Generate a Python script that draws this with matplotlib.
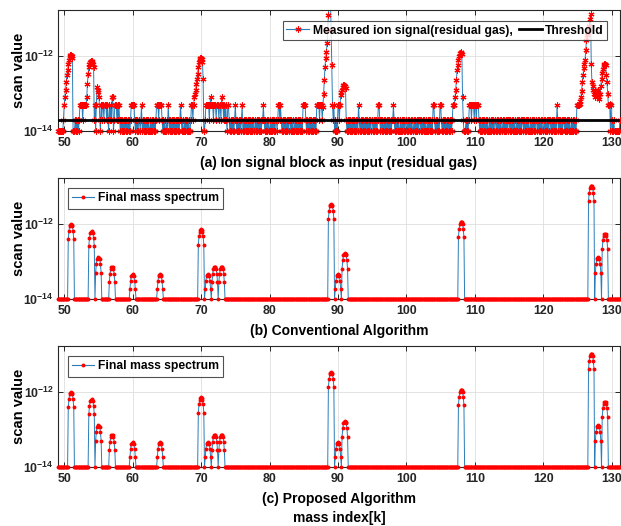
import numpy as np
import matplotlib
matplotlib.use("Agg")
import matplotlib.pyplot as plt
from matplotlib.ticker import NullLocator, FixedLocator

plt.rcParams['font.family'] = ['Liberation Sans', 'DejaVu Sans']
plt.rcParams['font.weight'] = 'bold'
plt.rcParams['mathtext.fontset'] = 'custom'
plt.rcParams['mathtext.rm'] = 'Liberation Sans:bold'
plt.rcParams['mathtext.bf'] = 'Liberation Sans:bold'
plt.rcParams['mathtext.it'] = 'Liberation Sans:bold'

# ---------------- data ----------------
x_start, x_stop, x_step = 49.0, 131.2, 0.1
mass_index = np.round(np.arange(490, 1313) / 10.0, 1)

# (a) measured ion signal: background noise level codes, 10 samples per unit mass
# '1' = 1e-14, '2' = 2e-14, '5' = 5e-14, '8' = 8e-14
noise_levels = {'1': 1e-14, '2': 2e-14, '5': 5e-14, '8': 8e-14}
noise_codes = {
    49: "1111111112", 50: "2222222222", 51: "2221112121", 52: "2125555255",
    53: "5552222222", 54: "2222251555", 55: "5521525525", 56: "5525215252",
    57: "8812555252", 58: "5212121212", 59: "1212121255", 60: "5552121212",
    61: "2125121212", 62: "1212112121", 63: "2121255525", 64: "5552121211",
    65: "2152121212", 66: "1212121212", 67: "5212112121", 68: "2121125525",
    69: "5222222222", 70: "2222112555", 71: "5525855525", 72: "5525552552",
    73: "8552525215", 74: "5212121212", 75: "5212121212", 76: "5121212121",
    77: "2121212112", 78: "1212121212", 79: "2521212121", 80: "1212121212",
    81: "2125525212", 82: "1212121212", 83: "2121211212", 84: "1212121215",
    85: "5552121212", 86: "1212121215", 87: "5552555222", 88: "2222222222",
    89: "2222512121", 90: "5525222222", 91: "2221212121", 92: "2121212121",
    93: "5212121212", 94: "1212121212", 95: "2121212125", 96: "5212121212",
    97: "1212121212", 98: "2521212121", 99: "1212121212", 100: "2121212121",
    101: "1212121212", 102: "2121212121", 103: "1212121215", 104: "5212121215",
    105: "5212121212", 106: "1212121255", 107: "5222222222", 108: "2222111212",
    109: "1255525552", 110: "5525552121", 111: "2121212121", 112: "1212121212",
    113: "2121212121", 114: "1212121212", 115: "2121212121", 116: "1212121212",
    117: "2121212121", 118: "1212121212", 119: "2121212121", 120: "1212121212",
    121: "2121212121", 122: "5212121212", 123: "2121212121", 124: "1212121215",
    125: "5555222222", 126: "2222222222", 127: "2222222222", 128: "2222222222",
    129: "2222222215", 130: "1212111111", 131: "112",
}

# (a) peak segments: start mass, log10 of scan value at each 0.1 step
peak_segments = {
    50.0: [-13.3, -13.1, -12.9, -12.7, -12.5, -12.38, -12.2, -12.1, -12.0, -11.97, -11.97, -12.0, -12.05],
    53.3: [-13.1, -12.74, -12.47, -12.3, -12.2, -12.15, -12.12, -12.12, -12.15, -12.2, -12.3],
    54.8: [-12.83, -12.9, -12.97, -13.1],
    68.9: [-13.3, -13.1, -13.0, -12.9, -12.74, -12.6, -12.47, -12.29, -12.15, -12.08, -12.05, -12.05, -12.08, -12.15, -12.6],
    87.8: [-13.37, -13.0, -12.65, -12.3, -12.06, -11.9, -11.66, -11.3, -10.9, -10.5, -10.4, -10.5, -11.3, -12.24, -13.3],
    90.4: [-13.05, -12.97, -12.9, -12.82, -12.78, -12.78, -12.8, -12.85],
    107.1: [-13.1, -12.9, -12.65, -12.38, -12.24, -12.1, -12.0, -11.92, -11.9, -11.92, -11.95, -13.1],
    125.3: [-13.27, -13.2, -13.1, -12.92, -12.69, -12.51, -12.33, -12.2, -12.1, -11.84, -11.57,
            -11.45, -11.38, -11.3, -11.2, -11.0, -10.89, -12.2, -12.7, -12.9, -12.8, -13.0,
            -12.9, -13.1, -12.95, -13.05, -13.1, -12.9, -13.0, -13.15, -13.0, -12.8, -12.6,
            -12.45, -12.35, -12.25, -12.2, -12.2, -12.25, -12.5, -12.7, -13.0, -13.3, -13.3, -13.27],
}
threshold = 2e-14

# (b)/(c) final mass spectrum: peak centres and heights
peak_mass = [51, 54, 55, 57, 60, 64, 70, 71, 72, 73, 89, 90, 91, 108, 127, 128, 129]
peak_height_conv = [1.0e-12, 6.5e-13, 1.3e-13, 7.2e-14, 4.6e-14, 4.6e-14, 7.2e-13, 4.6e-14,
                    7.2e-14, 7.2e-14, 3.4e-12, 4.6e-14, 1.65e-13, 1.15e-12, 1.05e-11,
                    1.3e-13, 5.6e-13]
peak_height_prop = [1.0e-12, 6.5e-13, 1.3e-13, 7.2e-14, 4.6e-14, 4.6e-14, 7.2e-13, 4.6e-14,
                    7.2e-14, 7.2e-14, 3.4e-12, 4.6e-14, 1.65e-13, 1.15e-12, 1.05e-11,
                    1.3e-13, 5.6e-13]
# relative peak shape at offsets -0.4 .. +0.4
peak_offsets = [-0.4, -0.3, -0.2, -0.1, 0.0, 0.1, 0.2, 0.3, 0.4]
peak_profile = [0.39, 0.66, 0.88, 0.97, 1.0, 0.97, 0.88, 0.66, 0.39]
floor_value = 1e-14

xticks = [50, 60, 70, 80, 90, 100, 110, 120, 130]

# ---------------- build series ----------------
codes = "".join(noise_codes[k] for k in sorted(noise_codes))
measured = np.array([noise_levels[c] for c in codes[:len(mass_index)]])
for start, logs in peak_segments.items():
    i0 = int(round((start - x_start) * 10))
    measured[i0:i0 + len(logs)] = 10.0 ** np.array(logs)


def spectrum(heights):
    s = np.full(len(mass_index), floor_value)
    for m, h in zip(peak_mass, heights):
        for off, p in zip(peak_offsets, peak_profile):
            i = int(round((m + off - x_start) * 10))
            s[i] = max(s[i], h * p)
    return s


conv = spectrum(peak_height_conv)
prop = spectrum(peak_height_prop)

# ---------------- figure ----------------
W, H = 621, 526
fig = plt.figure(figsize=(W / 100, H / 100), dpi=100)
LEFT, RIGHT = 58, 620


def make_ax(top_px, bot_px):
    return fig.add_axes([LEFT / W, 1 - bot_px / H, (RIGHT - LEFT) / W, (bot_px - top_px) / H])


axA = make_ax(10, 131)
axB = make_ax(178, 299)
axC = make_ax(346, 467)

ylim = (1e-14, 10 ** -10.77)
xlim = (49.1, 131.2)
line_col = '#2a7db8'

for ax in (axA, axB, axC):
    ax.set_yscale('log')
    ax.set_xlim(*xlim)
    ax.set_ylim(*ylim)
    ax.yaxis.set_major_locator(FixedLocator([1e-14, 1e-12]))
    ax.yaxis.set_minor_locator(NullLocator())
    ax.set_yticklabels([r'$10^{-14}$', r'$10^{-12}$'])
    ax.set_xticks(xticks)
    ax.set_xticklabels([str(t) for t in xticks])
    ax.tick_params(direction='in', top=True, right=True, length=3.5, width=0.7,
                   labelsize=8.9, colors='#262626', pad=4.5)
    ax.tick_params(axis='y', pad=3)
    ax.grid(True, color='#dedede', lw=0.6)
    ax.set_axisbelow(True)
    for sp in ax.spines.values():
        sp.set_color('#262626')
        sp.set_linewidth(0.8)
    ax.set_ylabel('scan value', fontsize=10.6, fontweight='bold')
    ax.yaxis.set_label_coords((26 - LEFT) / (RIGHT - LEFT), 0.5)

asterisk = (6, 2, 0)

# panel (a)
axA.plot(mass_index, measured, color=line_col, lw=0.7, zorder=2)
vis = (measured <= ylim[1]) & (mass_index >= xlim[0])
axA.plot(mass_index[vis], measured[vis], ls='none', marker=asterisk, ms=4.3, mew=0.8,
         color='red', mec='red', zorder=3, clip_on=False)
axA.axhline(threshold, color='black', lw=2, zorder=4)
hA1, = axA.plot([], [], color=line_col, lw=0.8, marker=asterisk, ms=4.3, mew=0.8, mec='red')
hA2, = axA.plot([], [], color='black', lw=2)
legA = axA.legend([hA1, hA2], ['Measured ion signal(residual gas),', 'Threshold'],
                  ncol=2, loc='upper right', bbox_to_anchor=(0.977, 0.905),
                  fontsize=8.7, frameon=True, fancybox=False, edgecolor='#262626',
                  handlelength=1.9, handletextpad=0.3, columnspacing=0.5,
                  borderpad=0.25, borderaxespad=0)
legA.get_frame().set_linewidth(0.8)
axA.set_xlabel('(a) Ion signal block as input (residual gas)', fontsize=10, fontweight='bold',
               labelpad=5)

# panels (b), (c)
for ax, data, lab in ((axB, conv, '(b) Conventional Algorithm'),
                      (axC, prop, '(c) Proposed Algorithm\nmass index[k]')):
    ax.plot(mass_index, data, color=line_col, lw=0.7, zorder=2)
    v = mass_index >= xlim[0]
    ax.plot(mass_index[v], data[v], ls='none', marker='.', ms=3.6, color='red', zorder=3,
            clip_on=False)
    h, = ax.plot([], [], color=line_col, lw=0.8, marker='.', ms=3.6, mfc='red', mec='red')
    leg = ax.legend([h], ['Final mass spectrum'], loc='upper left',
                    bbox_to_anchor=(0.018, 0.917), fontsize=8.7, frameon=True,
                    fancybox=False, edgecolor='#262626', handlelength=1.8,
                    handletextpad=0.3, borderpad=0.35, borderaxespad=0)
    leg.get_frame().set_linewidth(0.8)
    ax.set_xlabel(lab, fontsize=10, fontweight='bold', labelpad=5, linespacing=1.4)

fig.savefig('out.png', dpi=100)
